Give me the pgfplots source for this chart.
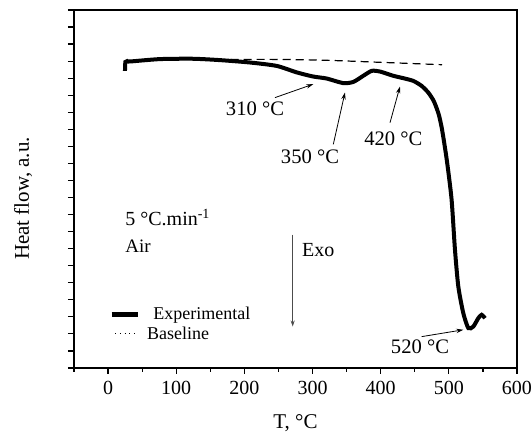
\documentclass[border=0pt]{standalone}
\usepackage{fontspec}
\setmainfont{Liberation Serif}
\usepackage{pgfplots}
\pgfplotsset{compat=1.18}
\usetikzlibrary{arrows.meta}

\begin{document}
\begin{tikzpicture}
\useasboundingbox (-37pt,-32.5pt) rectangle (229pt,184pt);
\begin{axis}[
    scale only axis,
    width=221.5pt, height=179pt,
    xmin=-50, xmax=600, ymin=0, ymax=21,
    xtick={0,100,...,600},
    minor xtick={-50,50,...,550},
    ytick={0,1,...,21}, yticklabels={},
    tick align=outside, tick pos=left,
    major tick length=3pt, minor tick length=1.8pt,
    axis line style={line width=0.7pt},
    every tick/.style={black, line width=0.6pt},
    /pgf/number format/assume math mode=true,
    tick label style={font=\fontsize{10}{12}\selectfont},
    xlabel={T, °C},
    ylabel={Heat flow, a.u.},
    label style={font=\fontsize{10.5}{12}\selectfont},
    xlabel style={at={(axis description cs:0.5,-0.155)}, anchor=center},
    ylabel style={at={(axis description cs:-0.115,0.4735)}, anchor=center},
]
% baseline (dashed)
\addplot[black, line width=0.6pt, dash pattern=on 4pt off 2.5pt, smooth] coordinates {
  (180,18.10) (250,18.10) (320,18.05) (400,17.93) (490,17.79)
};
% experimental DSC curve
\addplot[black, line width=2pt, smooth, tension=0.4] coordinates {
  (24.8,17.43) (25.4,17.95) (28,18.0) (32.2,17.98) (76.2,18.12) (124.6,18.14)
  (164.2,18.06) (208.2,17.92) (247.4,17.72) (276.8,17.34) (300.7,17.10)
  (320.8,16.98) (345.1,16.71) (359.8,16.78) (374.5,17.14) (386.8,17.43)
  (399.0,17.39) (418.5,17.14) (433.2,17.00) (447.9,16.84) (460,16.55)
  (470,16.15) (478,15.65) (485,14.9) (490,14.0) (497,12.2) (504,9.9)
  (509.0,6.94) (513.9,4.78) (521.2,3.22) (528.6,2.34) (535.9,2.43)
  (543.2,2.92) (548.2,3.12) (553.1,2.92)
};

% peak annotations
\draw[-{Stealth[length=3.5pt,width=2.2pt]}, line width=0.4pt] (axis cs:244.9,15.86) -- (axis cs:301.1,16.65);
\node[font=\fontsize{10.3}{12}\selectfont, inner sep=0] at (axis cs:215.6,15.18) {310 °C};
\draw[-{Stealth[length=3.5pt,width=2.2pt]}, line width=0.4pt] (axis cs:330.5,13.12) -- (axis cs:347.6,16.16);
\node[font=\fontsize{10.3}{12}\selectfont, inner sep=0] at (axis cs:296.3,12.39) {350 °C};
\draw[-{Stealth[length=3.5pt,width=2.2pt]}, line width=0.4pt] (axis cs:413.7,14.39) -- (axis cs:428.3,16.51);
\node[font=\fontsize{10.3}{12}\selectfont, inner sep=0] at (axis cs:418.5,13.45) {420 °C};
\draw[-{Stealth[length=3.5pt,width=2.2pt]}, line width=0.4pt] (axis cs:460.2,1.84) -- (axis cs:521.2,2.24);
\node[font=\fontsize{10.3}{12}\selectfont, inner sep=0] at (axis cs:457.7,1.24) {520 °C};

% conditions
\node[anchor=west, inner sep=0, font=\fontsize{10}{12}\selectfont] at (axis cs:24.8,8.82) {5 °C.min\textsuperscript{\fontsize{7}{8}\selectfont -1}};
\node[anchor=west, inner sep=0, font=\fontsize{9.5}{12}\selectfont] at (axis cs:24.8,7.12) {Air};

% exo arrow
\draw[-{Stealth[length=3pt,width=2pt]}, line width=0.5pt, gray!60!black] (axis cs:270.9,7.82) -- (axis cs:270.9,2.43);
\node[anchor=west, inner sep=0, font=\fontsize{10}{12}\selectfont] at (axis cs:284.1,6.94) {Exo};

% legend
\draw[line width=2.4pt] (axis cs:5.3,3.12) -- (axis cs:44.3,3.12);
\node[anchor=west, inner sep=0, font=\fontsize{9}{11}\selectfont] at (axis cs:65.9,3.12) {Experimental};
\draw[line width=0.4pt, dotted] (axis cs:10.2,2.04) -- (axis cs:42.0,2.04);
\node[anchor=west, inner sep=0, font=\fontsize{9}{11}\selectfont] at (axis cs:56.7,2.04) {Baseline};
\end{axis}
\end{tikzpicture}
\end{document}
